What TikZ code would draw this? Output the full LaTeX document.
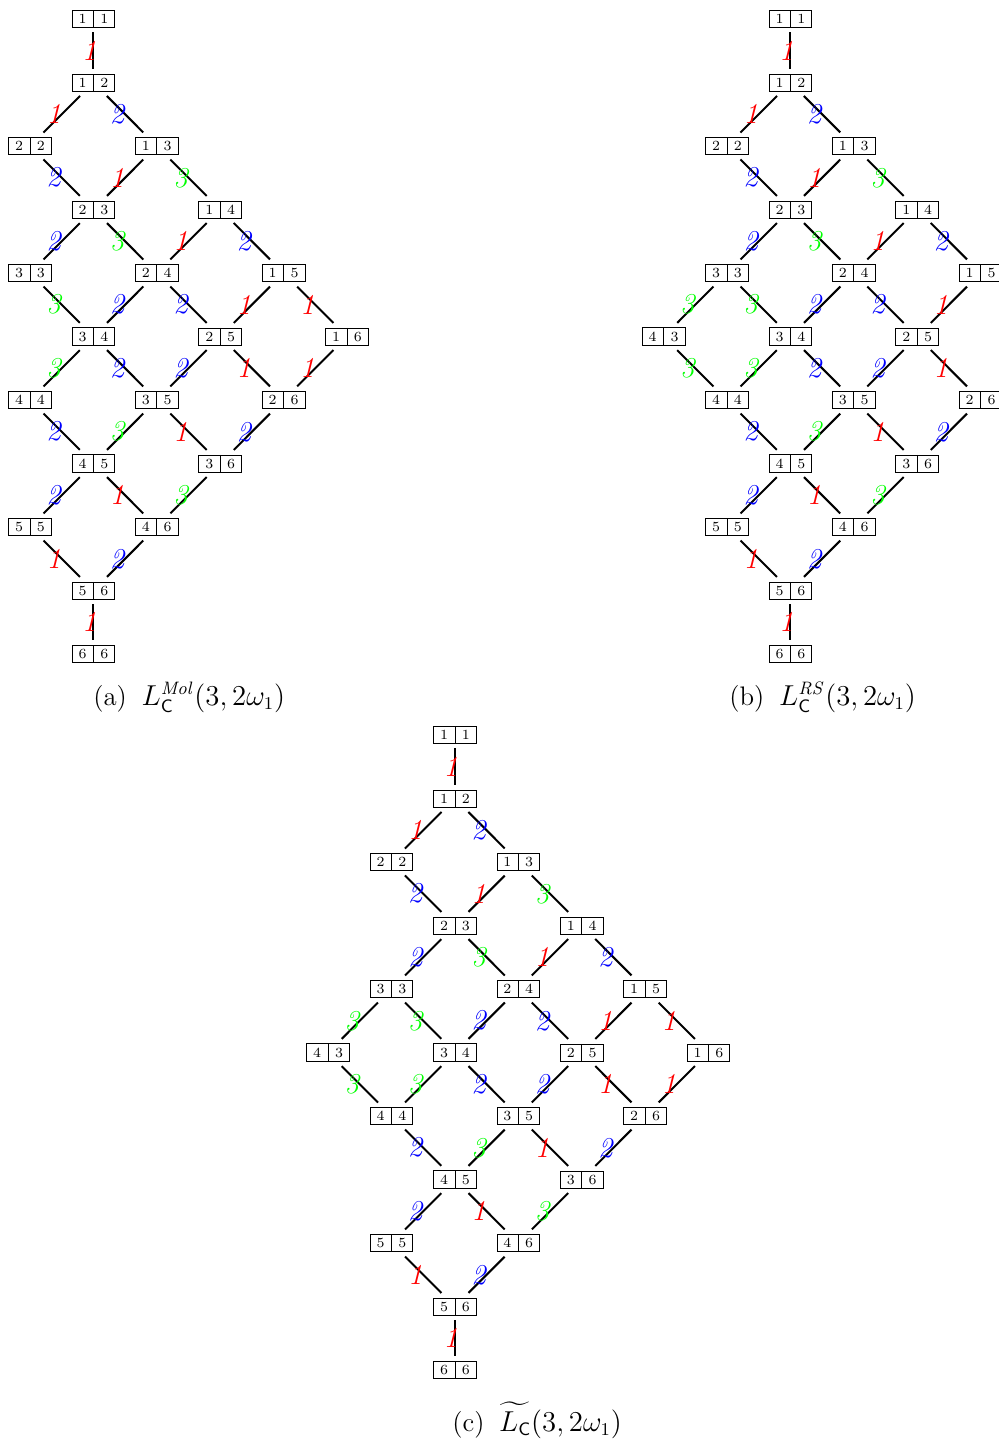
\documentclass[tikz,border=0pt]{standalone}
\usepackage{amsmath}
\usepackage{tikz}
\usetikzlibrary{shapes.multipart, positioning}

% nodes: top/bottom entry / column / row
\newcommand{\tabnodes}{1/1/1/0, 1/2/1/1, 2/2/0/2, 1/3/2/2, 2/3/1/3, 1/4/3/3,
  3/3/0/4, 2/4/2/4, 1/5/4/4, 3/4/1/5, 2/5/3/5, 4/4/0/6, 3/5/2/6, 2/6/4/6,
  4/5/1/7, 3/6/3/7, 5/5/0/8, 4/6/2/8, 5/6/1/9, 6/6/1/10}
% diagonal edges: from / to / colour / label
\newcommand{\tabedges}{12/22/red/1, 12/13/blue/2, 22/23/blue/2, 13/23/red/1,
  13/14/green/3, 23/33/blue/2, 23/24/green/3, 14/24/red/1, 14/15/blue/2,
  33/34/green/3, 24/34/blue/2, 24/25/blue/2, 15/25/red/1, 34/44/green/3,
  34/35/blue/2, 25/35/blue/2, 25/26/red/1, 44/45/blue/2, 35/45/green/3,
  35/36/red/1, 26/36/blue/2, 45/55/blue/2, 45/46/red/1, 36/46/green/3,
  55/56/red/1, 46/56/blue/2}

\tikzset{
  tabl/.style={rectangle split, rectangle split horizontal,
    rectangle split parts=2, draw, font=\scriptsize,
    inner xsep=3.25pt, inner ysep=1.9pt, outer sep=2.5pt},
  edge/.style={line width=1pt},
  lbl/.style={font=\Large\itshape, inner sep=0pt, xshift=-4pt},
  vlbl/.style={font=\Large\itshape, inner sep=0pt, xshift=-2pt, text=red},
  capt/.style={anchor=base west, inner sep=0pt, font=\fontsize{13.4}{16}\selectfont},
}

\begin{document}
\begin{tikzpicture}[x=0.5pt, y=-0.5pt]
\useasboundingbox (0,0) rectangle (999,1439);

% (a)
\begin{scope}[shift={(30,19)}]
\def\p{a}
\foreach \ta/\tb/\cx/\ry in \tabnodes
  \node[tabl] (\p\ta\tb) at (63.4*\cx,63.5*\ry) {\ta\nodepart{two}\tb};
\node[tabl] (a16) at (63.4*5,63.5*5) {1\nodepart{two}6};
\foreach \ea/\eb/\ec/\ek in \tabedges
  \draw[edge] (\p\ea) -- node[lbl, text=\ec] {\ek} (\p\eb);
\foreach \ea/\eb in {15/16, 16/26}
  \draw[edge] (\p\ea) -- node[lbl, text=red] {1} (\p\eb);
\foreach \ea/\eb in {11/12, 56/66}
  \draw[edge] (\p\ea) -- node[vlbl] {1} (\p\eb);
\end{scope}

% (b)
\begin{scope}[shift={(727,19)}]
\def\p{b}
\foreach \ta/\tb/\cx/\ry in \tabnodes
  \node[tabl] (\p\ta\tb) at (63.4*\cx,63.5*\ry) {\ta\nodepart{two}\tb};
\node[tabl] (b43) at (-63.4,63.5*5) {4\nodepart{two}3};
\foreach \ea/\eb/\ec/\ek in \tabedges
  \draw[edge] (\p\ea) -- node[lbl, text=\ec] {\ek} (\p\eb);
\foreach \ea/\eb in {33/43, 43/44}
  \draw[edge] (\p\ea) -- node[lbl, text=green] {3} (\p\eb);
\foreach \ea/\eb in {11/12, 56/66}
  \draw[edge] (\p\ea) -- node[vlbl] {1} (\p\eb);
\end{scope}

% (c)
\begin{scope}[shift={(391.5,735)}]
\def\p{c}
\foreach \ta/\tb/\cx/\ry in \tabnodes
  \node[tabl] (\p\ta\tb) at (63.4*\cx,63.5*\ry) {\ta\nodepart{two}\tb};
\node[tabl] (c16) at (63.4*5,63.5*5) {1\nodepart{two}6};
\node[tabl] (c43) at (-63.4,63.5*5) {4\nodepart{two}3};
\foreach \ea/\eb/\ec/\ek in \tabedges
  \draw[edge] (\p\ea) -- node[lbl, text=\ec] {\ek} (\p\eb);
\foreach \ea/\eb in {15/16, 16/26}
  \draw[edge] (\p\ea) -- node[lbl, text=red] {1} (\p\eb);
\foreach \ea/\eb in {33/43, 43/44}
  \draw[edge] (\p\ea) -- node[lbl, text=green] {3} (\p\eb);
\foreach \ea/\eb in {11/12, 56/66}
  \draw[edge] (\p\ea) -- node[vlbl] {1} (\p\eb);
\end{scope}

% captions
\node[capt] (capa) at (93,705) {(a)\hspace{0.55em}$L^{\mathit{Mol}}_{\mathsf{C}}(3,2\omega_1)$};
\node[capt] (capb) at (729,705) {(b)\hspace{0.55em}$L^{\mathit{RS}}_{\mathsf{C}}(3,2\omega_1)$};
\node[capt] (capc) at (452,1431) {(c)\hspace{0.55em}$\widetilde{L_{\mathsf{C}}}(3,2\omega_1)$};
\end{tikzpicture}
\end{document}
